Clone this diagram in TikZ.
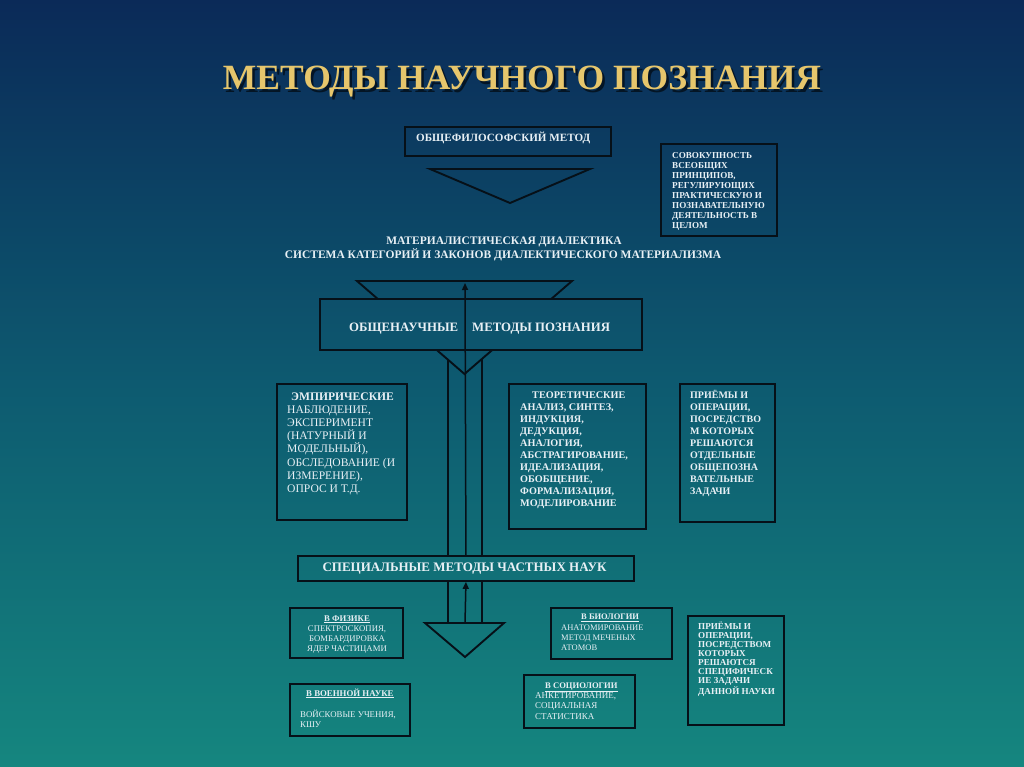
\documentclass[tikz,border=0pt]{standalone}
\usepackage{fontspec}
\setmainfont{Liberation Serif}
\usetikzlibrary{arrows.meta}
\definecolor{bgtop}{RGB}{11,42,88}
\definecolor{bgmid}{RGB}{13,90,112}
\definecolor{bgbot}{RGB}{21,134,127}
\definecolor{ink}{RGB}{6,16,24}
\definecolor{txtc}{RGB}{232,240,245}
\definecolor{gold}{RGB}{230,198,108}
\newcommand{\fstrut}{\rule{0pt}{0.95em}}
\newcommand{\mybgpatch}[4]{\begin{scope}\clip (#1,-#2) rectangle (#3,-#4); \shade[bgshade] (0,0) rectangle (1024,-767);\end{scope}}
\tikzset{
 bgshade/.style={top color=bgtop, bottom color=bgbot, middle color=bgmid},
 frame/.style={draw=ink, line width=1.9pt, rectangle, inner sep=0pt, anchor=north west},
 shapeline/.style={draw=ink, line width=1.9pt, line join=miter},
 txt/.style={text=txtc, inner sep=0pt, align=left, anchor=north west},
 arr/.style={draw=ink, line width=1.5pt, -{Triangle[length=7pt,width=6pt]}},
 titlefont/.style={font=\fontsize{35.5}{40}\selectfont\bfseries, anchor=base, inner sep=0pt},
}
\begin{document}
\begin{tikzpicture}[x=1pt,y=1pt]
\useasboundingbox (0,0) rectangle (1024,-767);
\shade[bgshade] (0,0) rectangle (1024,-767);

% title
\node[titlefont, text=black, opacity=0.6] (titleshadow) at (524.5,-92.5) {МЕТОДЫ НАУЧНОГО ПОЗНАНИЯ};
\node[titlefont, text=gold] (title) at (522,-90) {МЕТОДЫ НАУЧНОГО ПОЗНАНИЯ};

% general philosophical method
\node[frame, minimum width=206pt, minimum height=29pt] (ofm) at (404,-126) {};
\node[txt, anchor=base west, font=\fontsize{11.1}{12}\selectfont\bfseries] (ofmt) at (416,-141.7) {ОБЩЕФИЛОСОФСКИЙ МЕТОД};
\draw[shapeline] (430,-169) -- (590,-169) -- (510,-203) -- cycle;

% definition box
\node[frame, minimum width=116pt, minimum height=92pt] (sov) at (660,-143) {};
\node[txt, font=\fontsize{9.1}{10}\selectfont\bfseries] (sovt) at (672,-149.4) {\fstrut СОВОКУПНОСТЬ\\ВСЕОБЩИХ\\ПРИНЦИПОВ,\\РЕГУЛИРУЮЩИХ\\ПРАКТИЧЕСКУЮ И\\ПОЗНАВАТЕЛЬНУЮ\\ДЕЯТЕЛЬНОСТЬ В\\ЦЕЛОМ};

% dialectics
\node[txt, anchor=base, font=\fontsize{11.5}{12}\selectfont\bfseries] (dial1) at (504,-244.8) {МАТЕРИАЛИСТИЧЕСКАЯ ДИАЛЕКТИКА};
\node[txt, anchor=base, font=\fontsize{11.5}{12}\selectfont\bfseries] (dial2) at (503,-258.8) {СИСТЕМА КАТЕГОРИЙ И ЗАКОНОВ ДИАЛЕКТИЧЕСКОГО МАТЕРИАЛИЗМА};

% big triangle and vertical lines
\draw[shapeline] (357,-281) -- (572,-281) -- (464.5,-374) -- cycle;
\coordinate (v1t) at (448,-359.7);
\coordinate (v1b) at (448,-623);
\coordinate (v2t) at (482,-358.9);
\coordinate (v2b) at (482,-623);
\draw[shapeline] (v1t) -- (v1b);
\draw[shapeline] (v2t) -- (v2b);

% general scientific methods
\mybgpatch{319}{298}{641}{349}
\node[frame, minimum width=322pt, minimum height=51pt] (obn) at (319,-298) {};
\node[txt, anchor=base west, font=\fontsize{12.8}{13}\selectfont\bfseries] (obn1) at (349,-331.2) {ОБЩЕНАУЧНЫЕ};
\node[txt, anchor=base west, font=\fontsize{12.8}{13}\selectfont\bfseries] (obn2) at (472,-331.2) {МЕТОДЫ ПОЗНАНИЯ};

% special methods
\mybgpatch{297}{555}{633}{580}
\node[frame, minimum width=336pt, minimum height=25pt] (spec) at (297,-555) {};
\node[txt, anchor=base, font=\fontsize{13}{13}\selectfont\bfseries] (spect) at (464.5,-571.3) {СПЕЦИАЛЬНЫЕ МЕТОДЫ ЧАСТНЫХ НАУК};

% arrows
\coordinate (arrtop) at (465,-283);
\draw[arr] (spec.north) -- (arrtop);
\draw[shapeline] (425,-623) -- (504,-623) -- (465,-657) -- cycle;
\coordinate (btri) at (465,-623);
\draw[arr] (btri) -- (spec.south);

% empirical
\node[frame, minimum width=130pt, minimum height=136pt] (emp) at (276,-383) {};
\node[txt, font=\fontsize{11.6}{13.2}\selectfont] (empt) at (287,-388.8) {\fstrut\hspace*{4pt}\textbf{ЭМПИРИЧЕСКИЕ}\\НАБЛЮДЕНИЕ,\\ЭКСПЕРИМЕНТ\\(НАТУРНЫЙ И\\МОДЕЛЬНЫЙ),\\ОБСЛЕДОВАНИЕ (И\\ИЗМЕРЕНИЕ),\\ОПРОС И Т.Д.};

% theoretical
\node[frame, minimum width=137pt, minimum height=145pt] (teo) at (508,-383) {};
\node[txt, font=\fontsize{10.2}{12}\selectfont\bfseries] (teot) at (520,-388.7) {\fstrut\hspace*{12pt}ТЕОРЕТИЧЕСКИЕ\\АНАЛИЗ, СИНТЕЗ,\\ИНДУКЦИЯ,\\ДЕДУКЦИЯ,\\АНАЛОГИЯ,\\АБСТРАГИРОВАНИЕ,\\ИДЕАЛИЗАЦИЯ,\\ОБОБЩЕНИЕ,\\ФОРМАЛИЗАЦИЯ,\\МОДЕЛИРОВАНИЕ};

% techniques 1
\node[frame, minimum width=95pt, minimum height=138pt] (pr1) at (679,-383) {};
\node[txt, font=\fontsize{10}{12}\selectfont\bfseries] (pr1t) at (690,-388.8) {\fstrut ПРИЁМЫ И\\ОПЕРАЦИИ,\\ПОСРЕДСТВО\\М КОТОРЫХ\\РЕШАЮТСЯ\\ОТДЕЛЬНЫЕ\\ОБЩЕПОЗНА\\ВАТЕЛЬНЫЕ\\ЗАДАЧИ};

% physics
\node[frame, minimum width=113pt, minimum height=50pt] (phys) at (289,-607) {};
\node[txt, anchor=north, align=center, font=\fontsize{8.7}{10}\selectfont] (physt) at (347,-612.6) {\fstrut\textbf{\underline{В ФИЗИКЕ}}\\СПЕКТРОСКОПИЯ,\\БОМБАРДИРОВКА\\ЯДЕР ЧАСТИЦАМИ};

% biology
\node[frame, minimum width=121pt, minimum height=51pt] (bio) at (550,-607) {};
\node[txt, font=\fontsize{8.5}{10.2}\selectfont] (biot) at (561,-611.7) {\fstrut\hspace*{20pt}\textbf{\underline{В БИОЛОГИИ}}\\АНАТОМИРОВАНИЕ\\МЕТОД МЕЧЕНЫХ\\АТОМОВ};

% techniques 2
\node[frame, minimum width=96pt, minimum height=109pt] (pr2) at (687,-615) {};
\node[txt, font=\fontsize{9.1}{9.1}\selectfont\bfseries] (pr2t) at (698,-620.4) {\fstrut ПРИЁМЫ И\\ОПЕРАЦИИ,\\ПОСРЕДСТВОМ\\КОТОРЫХ\\РЕШАЮТСЯ\\СПЕЦИФИЧЕСК\\ИЕ ЗАДАЧИ\\ДАННОЙ НАУКИ};

% military
\node[frame, minimum width=120pt, minimum height=52pt] (mil) at (289,-683) {};
\node[txt, font=\fontsize{8.8}{10}\selectfont] (milt) at (300,-687.5) {\fstrut\hspace*{6pt}\textbf{\underline{В ВОЕННОЙ НАУКЕ}}\\[11pt]ВОЙСКОВЫЕ УЧЕНИЯ,\\КШУ};

% sociology
\node[frame, minimum width=111pt, minimum height=53pt] (soc) at (523,-674) {};
\node[txt, font=\fontsize{9}{10.3}\selectfont] (soct) at (535,-679.4) {\fstrut\hspace*{10pt}{\fontsize{8.6}{10.3}\selectfont\textbf{\underline{В СОЦИОЛОГИИ}}}\\АНКЕТИРОВАНИЕ,\\СОЦИАЛЬНАЯ\\СТАТИСТИКА};
\end{tikzpicture}
\end{document}
